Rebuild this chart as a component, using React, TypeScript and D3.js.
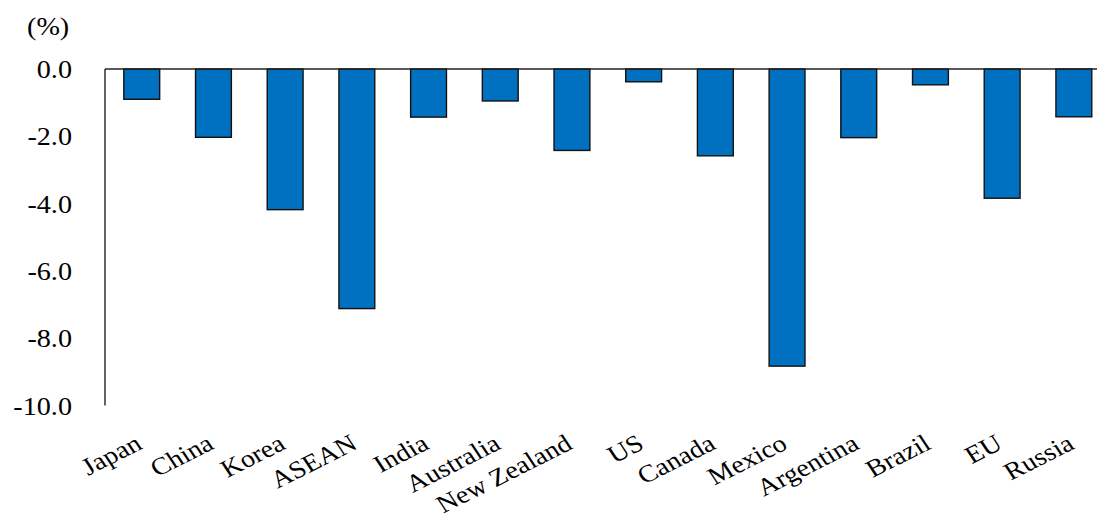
import React from "react";
import * as d3 from "d3";

const categories = ["Japan", "China", "Korea", "ASEAN", "India", "Australia", "New Zealand", "US", "Canada", "Mexico", "Argentina", "Brazil", "EU", "Russia"];
const values = [-0.9, -2.03, -4.18, -7.12, -1.43, -0.95, -2.42, -0.38, -2.58, -8.83, -2.04, -0.47, -3.84, -1.42];
const yTicks = [0, -2, -4, -6, -8, -10];
const unitLabel = "(%)";

const W = 1097;
const H = 523;
const SX = 1.15;
const FONT = "'Liberation Serif', 'Times New Roman', serif";

export default function App() {
  const x = d3
    .scaleBand<string>()
    .domain(categories)
    .range([105.9, 105.9 + 14 * 71.7])
    .paddingInner(0.5)
    .paddingOuter(0.25);
  const y = d3.scaleLinear().domain([-10, 0]).range([405.5, 69]);

  return (
    <svg width={W} height={H} style={{ position: "absolute", left: 0, top: 0, background: "#fff" }}>
      <text
        transform={`translate(27,35) scale(${SX},1)`}
        fontFamily={FONT}
        fontSize={24.5}
        fill="#000"
      >
        {unitLabel}
      </text>
      {yTicks.map((t) => (
        <text
          key={t}
          transform={`translate(72,${y(t) + 9}) scale(${SX},1)`}
          textAnchor="end"
          fontFamily={FONT}
          fontSize={24.5}
          fill="#000"
        >
          {t.toFixed(1).replace("\u2212", "-")}
        </text>
      ))}
      {categories.map((c, i) => {
        const v = values[i];
        const x0 = x(c)!;
        return (
          <rect
            key={c}
            x={x0}
            y={y(Math.max(0, v))}
            width={x.bandwidth()}
            height={Math.abs(y(v) - y(0))}
            fill="#0070C0"
            stroke="#111"
            strokeWidth={1.4}
          />
        );
      })}
      <line x1={105} x2={W} y1={y(0)} y2={y(0)} stroke="#222" strokeWidth={1.4} />
      <line x1={105} x2={105} y1={y(0)} y2={y(-10)} stroke="#222" strokeWidth={1.4} />
      {categories.map((c) => {
        const cx = x(c)! + x.bandwidth() / 2;
        return (
          <text
            key={c}
            transform={`translate(${cx + 2},448) scale(${SX},1) rotate(-30)`}
            textAnchor="end"
            fontFamily={FONT}
            fontSize={24.5}
            fill="#000"
          >
            {c}
          </text>
        );
      })}
    </svg>
  );
}
